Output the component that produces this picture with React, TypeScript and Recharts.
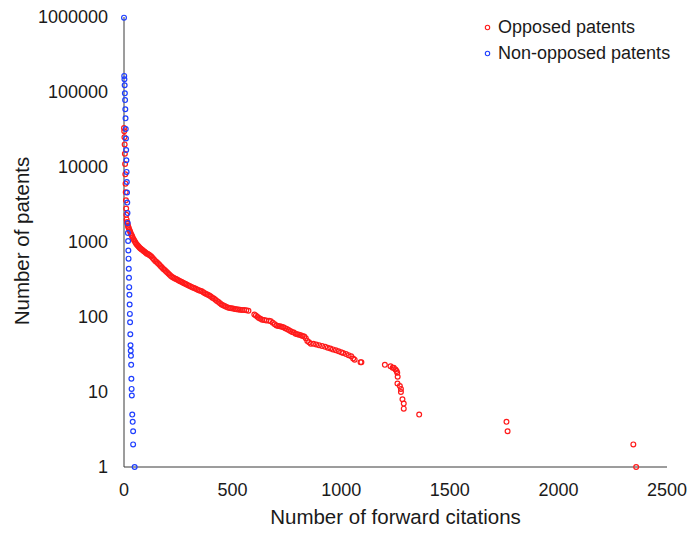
import React from 'react';
import { ScatterChart, Scatter, XAxis, YAxis, Legend } from 'recharts';

// opposed patents: forward citations vs number of patents
const opposedCitations = [
  0, 1, 2, 3, 4, 5, 6, 7, 8, 9, 10, 11, 12, 14, 16, 18, 20, 22, 25, 28, 31, 34, 37, 40, 44, 48, 52, 56, 60, 64,
  68, 72, 76, 80, 85, 90, 95, 100, 105, 110, 115, 120, 126, 132, 138, 144, 150, 156, 162, 168, 174, 180, 186,
  192, 198, 204, 210, 216, 222, 228, 234, 240, 246, 252, 258, 264, 270, 276, 282, 288, 295, 302, 309, 316, 323,
  330, 337, 344, 351, 358, 365, 372, 379, 386, 393, 400, 407, 414, 421, 428, 435, 442, 449, 456, 463, 470, 478,
  486, 494, 502, 510, 518, 526, 534, 543, 553, 563, 573, 600, 607, 614, 621, 628, 636, 645, 655, 668, 676, 685,
  694, 702, 710, 718, 726, 734, 742, 750, 758, 766, 774, 782, 790, 798, 806, 814, 822, 830, 837, 844, 852, 860,
  872, 885, 898, 912, 926, 938, 950, 962, 975, 988, 1000, 1009, 1022, 1034, 1046, 1055, 1062, 1089, 1093, 1201,
  1227, 1237, 1242, 1250, 1255, 1258, 1260, 1259, 1270, 1275, 1275, 1282, 1288, 1288, 1359, 1761, 1766, 2345, 2358,
];
const opposedCounts = [
  33000, 30000, 25000, 20000, 15000, 11000, 8000, 6000, 4600, 3600, 2800, 2300, 2000, 1850, 1750, 1650, 1580,
  1520, 1450, 1380, 1310, 1250, 1200, 1150, 1090, 1040, 990, 950, 920, 890, 865, 840, 820, 800, 780, 760, 740,
  720, 700, 690, 675, 660, 640, 610, 585, 560, 540, 520, 500, 480, 460, 440, 425, 410, 395, 380, 365, 352, 342,
  334, 326, 320, 313, 307, 300, 294, 288, 282, 277, 272, 266, 260, 254, 248, 243, 238, 233, 228, 224, 220, 214,
  208, 203, 198, 193, 187, 181, 176, 170, 164, 158, 152, 147, 143, 140, 137, 134, 132, 131, 130, 128, 127, 126,
  125, 124, 124, 123, 121, 108, 105, 101, 97, 95, 92, 91, 90, 89, 88, 84, 80, 77, 76, 75, 74, 73, 71, 69, 67,
  65, 63, 62, 60, 59, 58, 57, 56, 55, 52, 48, 46, 44, 44, 43, 42, 41, 40, 39, 38, 37, 36, 35, 34, 33, 32, 31,
  30, 28, 27, 25, 25, 23, 22, 21, 21, 20, 19, 18, 16, 13, 12, 11, 10, 8, 7, 6, 5, 4, 3, 2, 1,
];

// non-opposed patents
const nonOpposedCitations = [
  0, 1, 2, 3, 4, 5, 6, 7, 8, 9, 10, 11, 12, 13, 14, 15, 16, 17, 18, 19, 20, 21, 22, 23, 24, 25, 26, 27, 28, 29,
  30, 31, 32, 33, 34, 35, 36, 38, 40, 42, 42, 49,
];
const nonOpposedCounts = [
  980000, 164000, 148000, 123000, 96000, 78000, 59000, 44500, 32000, 24000, 16800, 12300, 8600, 6300, 4570,
  3350, 2430, 1790, 1320, 1030, 770, 600, 440, 333, 250, 198, 147, 110, 85, 59, 42, 35.5, 30.5, 23, 15, 11, 9,
  5, 4, 3, 2, 1,
];

const xTicks = [0, 500, 1000, 1500, 2000, 2500];
const yTicks = [1, 10, 100, 1000, 10000, 100000, 1000000];

const seriesNames = ['Opposed patents', 'Non-opposed patents'];
const seriesColors = ['#ff1a1a', '#1f3fff'];

const opposed = opposedCitations.map((x, i) => ({ x, y: opposedCounts[i] }));
const nonOpposed = nonOpposedCitations.map((x, i) => ({ x, y: nonOpposedCounts[i] }));

const font = '"Liberation Sans", Arial, sans-serif';
const textColor = '#1a1a1a';

const ring = (color: string) => (props: any) =>
  <circle cx={props.cx} cy={props.cy} r={2.4} fill="none" stroke={color} strokeWidth={1.2} />;

const LegendBox = () => (
  <div style={{ fontFamily: font, fontSize: 18, color: textColor }}>
    {seriesNames.map((name, i) => (
      <div key={name} style={{ display: 'flex', alignItems: 'center', height: 25.6 }}>
        <svg width={11} height={11} style={{ marginRight: 5 }}>
          <circle cx={5.5} cy={5.5} r={2.2} fill="none" stroke={seriesColors[i]} strokeWidth={1.1} />
        </svg>
        <span>{name}</span>
      </div>
    ))}
  </div>
);

export default function App() {
  return (
    <div style={{ position: 'absolute', left: 0, top: 0, width: 691, height: 534, background: '#fff' }}>
      <ScatterChart width={691} height={534} margin={{ top: 17, right: 24, bottom: 7, left: 0 }}>
        <XAxis
          type="number"
          dataKey="x"
          domain={[0, 2500]}
          ticks={xTicks}
          height={60}
          tickLine={false}
          tickSize={0}
          tickMargin={16}
          stroke="#3a3a3a"
          tick={{ fontFamily: font, fontSize: 18, fill: textColor }}
        />
        <YAxis
          type="number"
          dataKey="y"
          scale="log"
          domain={[1, 1000000]}
          ticks={yTicks}
          width={124}
          tickLine={false}
          tickSize={0}
          tickMargin={16}
          stroke="#3a3a3a"
          tickFormatter={(v: number) => String(v)}
          tick={{ fontFamily: font, fontSize: 18, fill: textColor }}
        />
        <Legend
          layout="vertical"
          align="center"
          verticalAlign="middle"
          wrapperStyle={{ top: 15, left: 482, width: 'auto' }}
          content={() => <LegendBox />}
        />
        <Scatter name={seriesNames[0]} data={opposed} shape={ring(seriesColors[0])} isAnimationActive={false} />
        <Scatter name={seriesNames[1]} data={nonOpposed} shape={ring(seriesColors[1])} isAnimationActive={false} />
      </ScatterChart>
      <div
        style={{
          position: 'absolute', left: 0, width: 791, top: 505, textAlign: 'center',
          fontFamily: font, fontSize: 20.5, color: textColor, lineHeight: '24px',
        }}
      >
        Number of forward citations
      </div>
      <div
        style={{
          position: 'absolute', left: 22, top: 241, transform: 'translate(-50%, -50%) rotate(-90deg)',
          whiteSpace: 'nowrap', fontFamily: font, fontSize: 20.5, color: textColor, lineHeight: '24px',
        }}
      >
        Number of patents
      </div>
    </div>
  );
}
